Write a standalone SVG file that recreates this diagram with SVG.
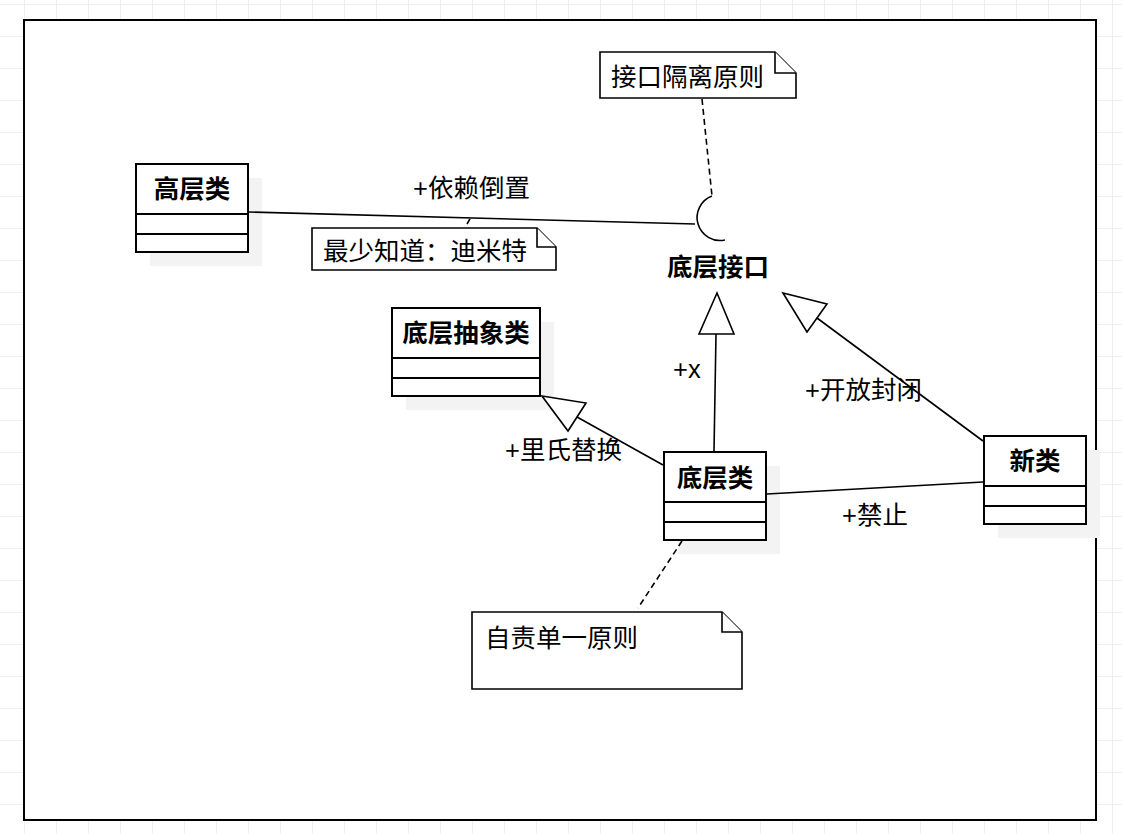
<svg xmlns="http://www.w3.org/2000/svg" width="1122" height="834" viewBox="0 0 1122 834">
<defs>
<pattern id="grid" x="24" y="4" width="32" height="32" patternUnits="userSpaceOnUse">
<path d="M0.5 0V32M0 0.5H32" fill="none" stroke="#eeeeee" stroke-width="1"/>
</pattern>
</defs>
<style>
text{font-family:"Liberation Sans","Noto Sans CJK SC",sans-serif;font-size:25.5px;fill:#000}
.b{font-weight:bold;text-anchor:middle}
.box{fill:#fff;stroke:#000;stroke-width:2}
.sh{fill:#f3f3f3;stroke:none}
.sep{stroke:#000;stroke-width:2}
.ln{fill:none;stroke:#000;stroke-width:1.6}
.dash{fill:none;stroke:#000;stroke-width:1.6;stroke-dasharray:6 4}
.tri{fill:#fff;stroke:#000;stroke-width:1.6;stroke-linejoin:miter}
.note{fill:#fff;stroke:#000;stroke-width:1.6}
</style>
<rect width="1122" height="834" fill="#fff"/>
<rect width="1122" height="834" fill="url(#grid)"/>
<rect x="24" y="20" width="1072" height="800" fill="#fff" stroke="#000" stroke-width="2"/>

<g id="interface">
<text class="b" x="718" y="276">底层接口</text>
</g>

<g id="high">
<rect class="sh" x="150" y="178" width="112" height="88"/>
<rect class="box" x="136" y="164" width="112" height="88"/>
<line class="sep" x1="136" y1="214" x2="248" y2="214"/>
<line class="sep" x1="136" y1="234" x2="248" y2="234"/>
<text class="b" x="192" y="198">高层类</text>
</g>

<g id="abstract">
<rect class="sh" x="406" y="322" width="148" height="88"/>
<rect class="box" x="392" y="308" width="148" height="88"/>
<line class="sep" x1="392" y1="358" x2="540" y2="358"/>
<line class="sep" x1="392" y1="378" x2="540" y2="378"/>
<text class="b" x="466" y="342">底层抽象类</text>
</g>

<g id="low">
<rect class="sh" x="678" y="466" width="102" height="88"/>
<rect class="box" x="664" y="452" width="102" height="88"/>
<line class="sep" x1="664" y1="502" x2="766" y2="502"/>
<line class="sep" x1="664" y1="522" x2="766" y2="522"/>
<text class="b" x="715" y="487">底层类</text>
</g>

<g id="newclass">
<rect class="sh" x="998" y="450" width="102" height="88"/>
<rect class="box" x="984" y="436" width="102" height="88"/>
<line class="sep" x1="984" y1="486" x2="1086" y2="486"/>
<line class="sep" x1="984" y1="506" x2="1086" y2="506"/>
<text class="b" x="1035" y="470">新类</text>
</g>

<g id="note-isp">
<path class="note" d="M600 52H775L796 73V98H600Z"/>
<path class="note" d="M775 52V73H796" fill="none"/>
<text x="611" y="86">接口隔离原则</text>
</g>

<g id="note-lod">
<path class="note" d="M312 228H537L556 247V270H312Z"/>
<path class="note" d="M537 228V247H556" fill="none"/>
<text x="323" y="260">最少知道：迪米特</text>
</g>

<g id="note-srp">
<path class="note" d="M472 612H722L742 632V689H472Z"/>
<path class="note" d="M722 612V632H742" fill="none"/>
<text x="485" y="647">自责单一原则</text>
</g>

<g id="connectors">
<line class="ln" x1="249" y1="212" x2="695" y2="224"/>
<path class="ln" d="M712 196A23 23 0 0 0 725 240"/>
<line class="dash" x1="702" y1="99" x2="712" y2="196"/>
<line class="dash" x1="467" y1="224" x2="471" y2="217"/>
<line class="ln" x1="716" y1="334" x2="714" y2="451"/>
<polygon class="tri" points="717,293 699,334 734,334"/>
<line class="ln" x1="817" y1="318" x2="983" y2="441"/>
<polygon class="tri" points="783,293 807,332 827,304"/>
<line class="ln" x1="577" y1="417" x2="663" y2="465"/>
<polygon class="tri" points="542,396 586,403 568,431"/>
<line class="ln" x1="767" y1="494" x2="983" y2="482"/>
<line class="dash" x1="682" y1="541" x2="638" y2="608"/>
<text x="413" y="197">+依赖倒置</text>
<text x="673" y="378">+x</text>
<text x="805" y="399">+开放封闭</text>
<text x="505" y="459">+里氏替换</text>
<text x="842" y="524">+禁止</text>
</g>
</svg>
